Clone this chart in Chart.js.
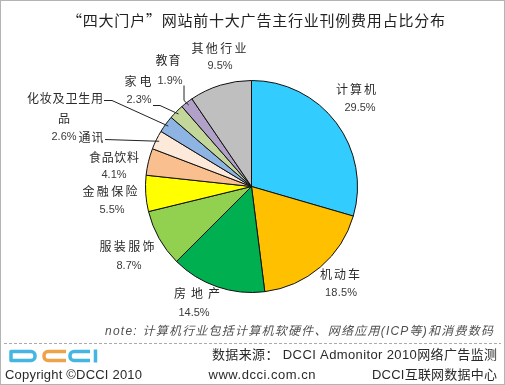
<!DOCTYPE html>
<html><head><meta charset="utf-8">
<script src="https://cdn.jsdelivr.net/npm/chart.js@4.4.0/dist/chart.umd.min.js"></script>
<style>html,body{margin:0;padding:0;background:#fff}canvas{display:block}</style>
</head><body>
<canvas id="c" width="505" height="385"></canvas>
<script>
// ---- data ----
const categories = ['计算机','机动车','房地产','服装服饰','金融保险','食品饮料','通讯','化妆及卫生用品','家电','教育','其他行业'];
const shares = [29.5, 18.5, 14.5, 8.7, 5.5, 4.1, 2.9, 2.6, 2.3, 1.9, 9.5];
const hiddenPct = ['通讯'];
const titleText = '“四大门户”网站前十大广告主行业刊例费用占比分布';
const noteText = 'note: 计算机行业包括计算机软硬件、网络应用(ICP等)和消费数码';
const sourceText = '数据来源： DCCI Admonitor 2010网络广告监测';
const copyrightText = 'Copyright ©DCCI 2010';
const siteText = 'www.dcci.com.cn';
const orgText = 'DCCI互联网数据中心';

// ---- styles ----
const sliceColors = ['#33CCFF','#FFC000','#00B050','#92D050','#FFFF00','#FABF8F','#FDE9D9','#8DB4E2','#C4D79B','#B1A0C7','#BFBFBF'];
// label layout: name pieces [text-part-split?, cx, cy, width], pct [cx, cy, width]
const labelLayout = [
  {name:[[null,356,89,40]], pct:[360,108,31]},
  {name:[[null,340,274,40]], pct:[341,293,32]},
  {name:[[null,197,293,49]], pct:[194,313,28]},
  {name:[[null,127,246,55]], pct:[129,266,25]},
  {name:[[null,110,191,55]], pct:[112,210,23]},
  {name:[[null,114,157,50]], pct:[114,175,25]},
  {name:[[null,91,137,25]], pct:null},
  {name:[['化妆及卫生用',65,98,76],['品',64,118,12]], pct:[64,137,25]},
  {name:[[null,138,81,27]], pct:[139,100,25]},
  {name:[[null,168,60,25]], pct:[170,81,25]},
  {name:[[null,219,48,55]], pct:[220,66,24]}
];
const leaders = {6:[[105,139]], 7:[[104,100],[112,100]], 8:[[153,105],[160,105]], 9:[[184,85],[184,100]]};

function fitText(ctx, text, cx, cy, width, align, minLs) {
  ctx.letterSpacing = '0px';
  const n = Array.from(text).length;
  const w0 = ctx.measureText(text).width;
  let ls = n > 1 ? (width - w0) / (n - 1) : 0;
  ls = Math.max(minLs === undefined ? -1.5 : minLs, Math.min(5, ls));
  ctx.letterSpacing = ls + 'px';
  const total = w0 + ls * (n - 1);
  let x;
  if (align === 'right') x = cx - total;
  else if (align === 'left') x = cx;
  else x = cx - total / 2;
  ctx.textAlign = 'left';
  ctx.textBaseline = 'middle';
  ctx.fillText(text, x, cy);
  ctx.letterSpacing = '0px';
}

const decor = {
  id: 'decor',
  beforeDraw(chart) {
    const ctx = chart.ctx;
    ctx.save();
    ctx.fillStyle = '#fff';
    ctx.fillRect(0, 0, chart.width, chart.height);
    ctx.restore();
  },
  afterDraw(chart) {
    const ctx = chart.ctx;
    const meta = chart.getDatasetMeta(0);
    ctx.save();
    // border
    ctx.strokeStyle = '#b4b4b4';
    ctx.lineWidth = 1;
    ctx.strokeRect(0.5, 0.5, chart.width - 1, chart.height - 1);
    // title
    ctx.fillStyle = '#222';
    ctx.font = "15px 'Noto Sans CJK SC'";
    fitText(ctx, titleText, 256, 20, 378, 'center');
    // leader lines
    ctx.strokeStyle = '#222';
    ctx.lineWidth = 1;
    Object.keys(leaders).forEach(k => {
      const arc = meta.data[+k];
      const p = arc.getProps(['x','y','startAngle','endAngle','outerRadius'], true);
      const mid = (p.startAngle + p.endAngle) / 2;
      const ex = p.x + Math.cos(mid) * p.outerRadius * 0.97;
      const ey = p.y + Math.sin(mid) * p.outerRadius * 0.97;
      ctx.beginPath();
      leaders[k].forEach((pt, i) => { if (i === 0) ctx.moveTo(pt[0], pt[1] + 0.5); else ctx.lineTo(pt[0], pt[1] + 0.5); });
      ctx.lineTo(ex, ey);
      ctx.stroke();
    });
    // labels
    categories.forEach((cat, i) => {
      const L = labelLayout[i];
      ctx.fillStyle = '#2a2a2a';
      ctx.font = "12px 'Noto Sans CJK SC'";
      L.name.forEach(part => {
        const txt = part[0] === null ? cat : part[0];
        fitText(ctx, txt, part[1], part[2], part[3], 'center');
      });
      if (L.pct && hiddenPct.indexOf(cat) < 0) {
        ctx.font = "11px 'Liberation Sans'";
        ctx.fillStyle = '#3a3a3a';
        fitText(ctx, shares[i].toFixed(1) + '%', L.pct[0], L.pct[1], L.pct[2], 'center', 0);
      }
    });
    // note
    ctx.font = "italic 12px 'Liberation Sans','Noto Sans CJK SC'";
    ctx.fillStyle = '#505050';
    fitText(ctx, noteText, 493, 332, 388, 'right');
    // dashed separator
    ctx.strokeStyle = '#aaa';
    ctx.setLineDash([3, 2]);
    ctx.beginPath();
    ctx.moveTo(4, 343.5); ctx.lineTo(501, 343.5);
    ctx.stroke();
    ctx.setLineDash([]);
    // footer texts
    ctx.fillStyle = '#2a2a2a';
    ctx.font = "13px 'Liberation Sans','Noto Sans CJK SC'";
    fitText(ctx, sourceText, 497, 355, 285, 'right');
    fitText(ctx, copyrightText, 5, 375, 137, 'left');
    fitText(ctx, siteText, 262, 375, 107, 'center');
    fitText(ctx, orgText, 497, 375, 125, 'right');
    // logo
    ctx.lineWidth = 3.5;
    ctx.lineJoin = 'round';
    ctx.strokeStyle = '#45B5E2';
    ctx.beginPath();
    ctx.moveTo(11, 351.5); ctx.lineTo(30, 351.5);
    ctx.arcTo(35, 351.5, 35, 356, 4);
    ctx.arcTo(35, 360.5, 30, 360.5, 4);
    ctx.lineTo(11, 360.5); ctx.closePath();
    ctx.stroke();
    ctx.strokeStyle = '#EEA24A';
    ctx.beginPath();
    ctx.moveTo(66, 351.5); ctx.lineTo(48, 351.5);
    ctx.arcTo(44, 351.5, 44, 356, 4);
    ctx.arcTo(44, 360.5, 48, 360.5, 4);
    ctx.lineTo(66, 360.5);
    ctx.stroke();
    ctx.strokeStyle = '#45B5E2';
    ctx.beginPath();
    ctx.moveTo(90, 351.5); ctx.lineTo(74, 351.5);
    ctx.arcTo(70, 351.5, 70, 356, 4);
    ctx.arcTo(70, 360.5, 74, 360.5, 4);
    ctx.lineTo(90, 360.5);
    ctx.stroke();
    ctx.beginPath();
    ctx.moveTo(95.5, 349.5); ctx.lineTo(95.5, 362.5);
    ctx.stroke();
    ctx.restore();
  }
};

new Chart(document.getElementById('c'), {
  type: 'pie',
  data: {
    labels: categories,
    datasets: [{
      data: shares,
      backgroundColor: sliceColors,
      borderColor: '#111',
      borderWidth: 1,
      borderJoinStyle: 'miter'
    }]
  },
  options: {
    responsive: false,
    animation: false,
    layout: { padding: { left: 145, right: 147, top: 80, bottom: 92 } },
    plugins: { legend: { display: false }, tooltip: { enabled: false }, title: { display: false } }
  },
  plugins: [decor]
});
</script>
</body></html>
